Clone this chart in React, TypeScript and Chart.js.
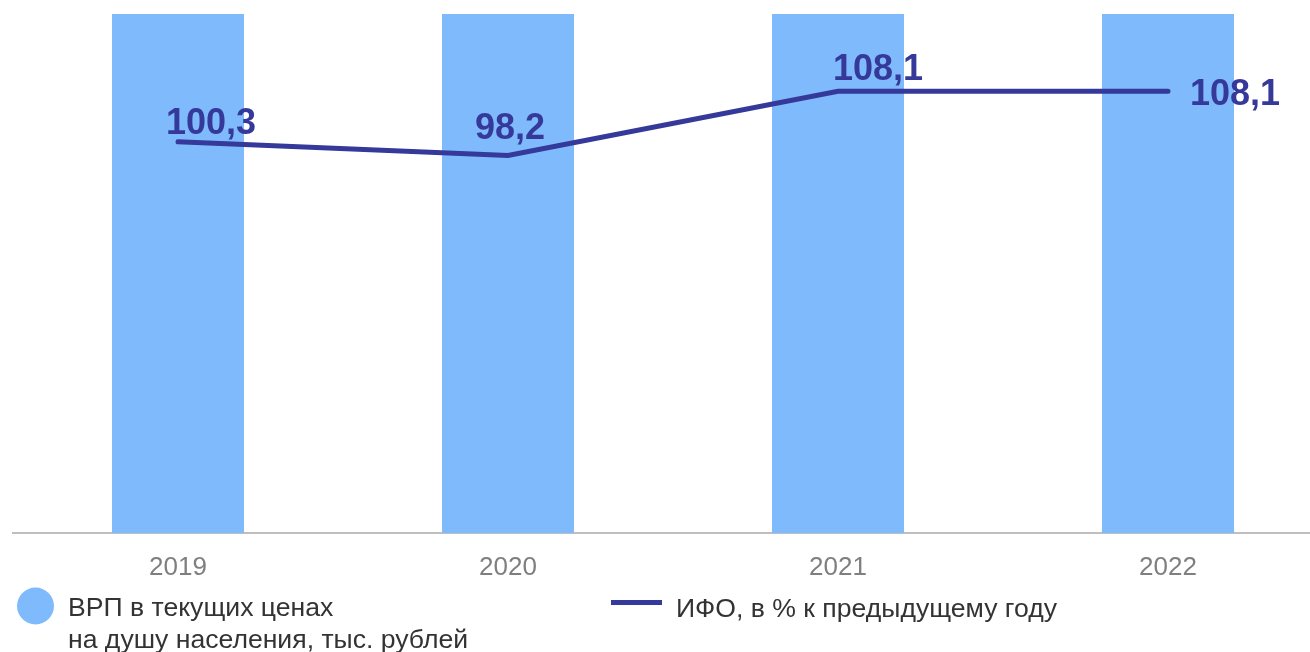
import React, { useEffect, useRef } from "react";
import { Chart, registerables } from "chart.js";

Chart.register(...registerables);

const categories = ["2019", "2020", "2021", "2022"];
// Bars are clipped at the top of the plot in the reference (values exceed the visible range)
const grpValues = [620, 650, 820, 960];
const ifoValues = [100.3, 98.2, 108.1, 108.1];
const ifoLabels = ["100,3", "98,2", "108,1", "108,1"];
const legendBarLines = ["ВРП в текущих ценах", "на душу населения, тыс. рублей"];
const legendLineText = "ИФО, в % к предыдущему году";

const BAR_COLOR = "#7FBAFC";
const LINE_COLOR = "#35399A";
const FONT = "'Liberation Sans', Arial, sans-serif";

const labelOffsets = [
  { dx: 33, dy: -8 },
  { dx: 2, dy: -16 },
  { dx: 40, dy: -11 },
  { dx: 67, dy: 14 },
];

const labelsPlugin = {
  id: "ifoLabels",
  afterDatasetsDraw(chart: any) {
    const meta = chart.getDatasetMeta(1);
    const ctx = chart.ctx;
    ctx.save();
    ctx.font = `bold 36px ${FONT}`;
    ctx.fillStyle = LINE_COLOR;
    ctx.textAlign = "center";
    ctx.textBaseline = "alphabetic";
    meta.data.forEach((pt: any, i: number) => {
      const o = labelOffsets[i];
      ctx.fillText(ifoLabels[i], pt.x + o.dx, pt.y + o.dy);
    });
    ctx.restore();
  },
  afterDraw(chart: any) {
    const ctx = chart.ctx;
    ctx.save();
    // bar legend
    ctx.fillStyle = BAR_COLOR;
    ctx.beginPath();
    ctx.arc(35.5, 606, 18.5, 0, Math.PI * 2);
    ctx.fill();
    ctx.fillStyle = "#333333";
    ctx.font = `26.6px ${FONT}`;
    ctx.textAlign = "left";
    ctx.textBaseline = "alphabetic";
    ctx.fillText(legendBarLines[0], 68, 616);
    ctx.fillText(legendBarLines[1], 68, 648);
    // line legend
    ctx.strokeStyle = LINE_COLOR;
    ctx.lineWidth = 5;
    ctx.beginPath();
    ctx.moveTo(611, 602.5);
    ctx.lineTo(662, 602.5);
    ctx.stroke();
    ctx.fillText(legendLineText, 676, 617);
    ctx.restore();
  },
};

export default function App() {
  const canvasRef = useRef<HTMLCanvasElement | null>(null);

  useEffect(() => {
    if (!canvasRef.current) return;
    const chart = new Chart(canvasRef.current, {
      type: "bar",
      data: {
        labels: categories,
        datasets: [
          {
            type: "bar",
            label: "ВРП",
            data: grpValues,
            backgroundColor: BAR_COLOR,
            borderWidth: 0,
            categoryPercentage: 0.8,
            barPercentage: 0.5,
            yAxisID: "y",
            order: 2,
          },
          {
            type: "line",
            label: "ИФО",
            data: ifoValues,
            borderColor: LINE_COLOR,
            borderWidth: 5,
            pointRadius: 0,
            borderCapStyle: "round",
            borderJoinStyle: "miter",
            tension: 0,
            yAxisID: "y1",
            order: 1,
          },
        ],
      },
      options: {
        responsive: false,
        animation: false,
        layout: { padding: { left: 13, right: 7, top: 14, bottom: 0 } },
        plugins: {
          legend: { display: false },
          tooltip: { enabled: false },
        },
        scales: {
          x: {
            type: "category",
            offset: true,
            grid: { display: false, drawTicks: false },
            border: { display: true, color: "#BFBFBF", width: 2 },
            ticks: {
              color: "#7F7F7F",
              font: { family: FONT, size: 26 },
              padding: 19,
              maxRotation: 0,
            },
            afterFit(scale: any) {
              scale.height = 119;
            },
          },
          y: {
            display: false,
            min: 0,
            max: 500,
          },
          y1: {
            display: false,
            min: 40,
            max: 120,
          },
        },
      },
      plugins: [labelsPlugin],
    } as any);
    return () => chart.destroy();
  }, []);

  return (
    <div
      style={{
        position: "absolute",
        left: 0,
        top: 0,
        width: 1310,
        height: 652,
        overflow: "hidden",
        background: "#ffffff",
      }}
    >
      <canvas ref={canvasRef} width={1340} height={652} style={{ display: "block" }} />
    </div>
  );
}
